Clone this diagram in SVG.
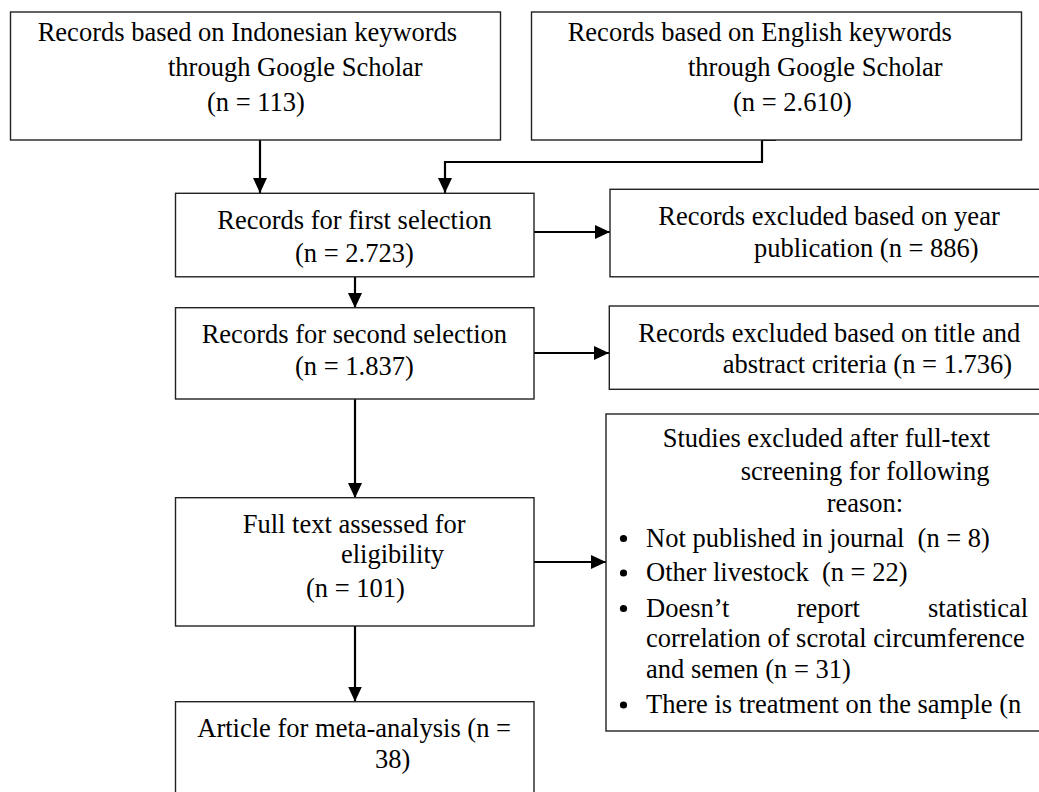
<svg xmlns="http://www.w3.org/2000/svg" width="1039" height="792" viewBox="0 0 1039 792">
<defs>
<style>
.box{fill:#fff;stroke:#222;stroke-width:1.4}
.t{font-family:"Liberation Serif","Times New Roman",serif;font-size:26.5px;fill:#000;white-space:pre}
.c{fill:none;stroke:#000;stroke-width:2.2}
</style>
<marker id="ah" markerUnits="userSpaceOnUse" markerWidth="15" markerHeight="14" refX="15" refY="7" orient="auto">
<path d="M0,0 L15,7 L0,14 z" fill="#000"/>
</marker>
</defs>
<rect width="1039" height="792" fill="#fff"/>
<g id="connectors">
<path class="c" d="M260,140 V193" marker-end="url(#ah)"/>
<path class="c" d="M776,140 H762 V162 H445 V193" marker-end="url(#ah)"/>
<path class="c" d="M355,277 V308" marker-end="url(#ah)"/>
<path class="c" d="M534,232 H610" marker-end="url(#ah)"/>
<path class="c" d="M355,399 V498" marker-end="url(#ah)"/>
<path class="c" d="M534,353 H609" marker-end="url(#ah)"/>
<path class="c" d="M534,562 H606" marker-end="url(#ah)"/>
<path class="c" d="M355,626 V701.5" marker-end="url(#ah)"/>
</g>
<g id="n1">
<rect class="box" x="10.5" y="12" width="490" height="128"/>
<text class="t" x="37.7" y="41">Records based on Indonesian keywords</text>
<text class="t" x="168" y="76">through Google Scholar</text>
<text class="t" x="207" y="111">(n = 113)</text>
</g>
<g id="n2">
<rect class="box" x="531.5" y="12" width="490" height="128"/>
<text class="t" x="567.7" y="41">Records based on English keywords</text>
<text class="t" x="688" y="76">through Google Scholar</text>
<text class="t" x="733" y="111">(n = 2.610)</text>
</g>
<g id="n3">
<rect class="box" x="175.5" y="193.3" width="358.5" height="83.5"/>
<text class="t" x="217.3" y="229">Records for first selection</text>
<text class="t" x="295" y="262">(n = 2.723)</text>
</g>
<g id="n4">
<rect class="box" x="610" y="189.3" width="440" height="87.5"/>
<text class="t" x="658.3" y="225">Records excluded based on year</text>
<text class="t" x="754" y="257">publication (n = 886)</text>
</g>
<g id="n5">
<rect class="box" x="175.5" y="307.7" width="358.5" height="91.3"/>
<text class="t" x="201.7" y="343.3">Records for second selection</text>
<text class="t" x="295" y="375">(n = 1.837)</text>
</g>
<g id="n6">
<rect class="box" x="609.3" y="306" width="440" height="83.3"/>
<text class="t" x="638.3" y="341.7">Records excluded based on title and</text>
<text class="t" x="722.7" y="372.7">abstract criteria (n = 1.736)</text>
</g>
<g id="n7">
<rect class="box" x="175.5" y="497.7" width="358.5" height="128.3"/>
<text class="t" x="242.7" y="533.3">Full text assessed for</text>
<text class="t" x="341" y="563.3">eligibility</text>
<text class="t" x="306" y="596.7">(n = 101)</text>
</g>
<g id="n8">
<rect class="box" x="606" y="414" width="445" height="317"/>
<text class="t" x="662.7" y="446.7">Studies excluded after full-text</text>
<text class="t" x="740.7" y="480">screening for following</text>
<text class="t" x="826.7" y="512.3">reason:</text>
<circle cx="623.5" cy="538.5" r="3.6" fill="#000"/>
<text class="t" x="646" y="546.5" xml:space="preserve">Not published in journal  (n = 8)</text>
<circle cx="623.5" cy="573" r="3.6" fill="#000"/>
<text class="t" x="646" y="581" xml:space="preserve">Other livestock  (n = 22)</text>
<circle cx="623.5" cy="608.5" r="3.6" fill="#000"/>
<text class="t" x="646" y="616.7">Doesn’t</text>
<text class="t" x="796.7" y="616.7">report</text>
<text class="t" x="928" y="616.7">statistical</text>
<text class="t" x="646" y="646.7">correlation of scrotal circumference</text>
<text class="t" x="646" y="678">and semen (n = 31)</text>
<circle cx="623.5" cy="705" r="3.6" fill="#000"/>
<text class="t" x="646" y="713.3">There is treatment on the sample (n</text>
</g>
<g id="n9">
<rect class="box" x="175.5" y="701.7" width="358.5" height="100"/>
<text class="t" x="197.3" y="736.7">Article for meta-analysis (n =</text>
<text class="t" x="375" y="768.3">38)</text>
</g>
</svg>
